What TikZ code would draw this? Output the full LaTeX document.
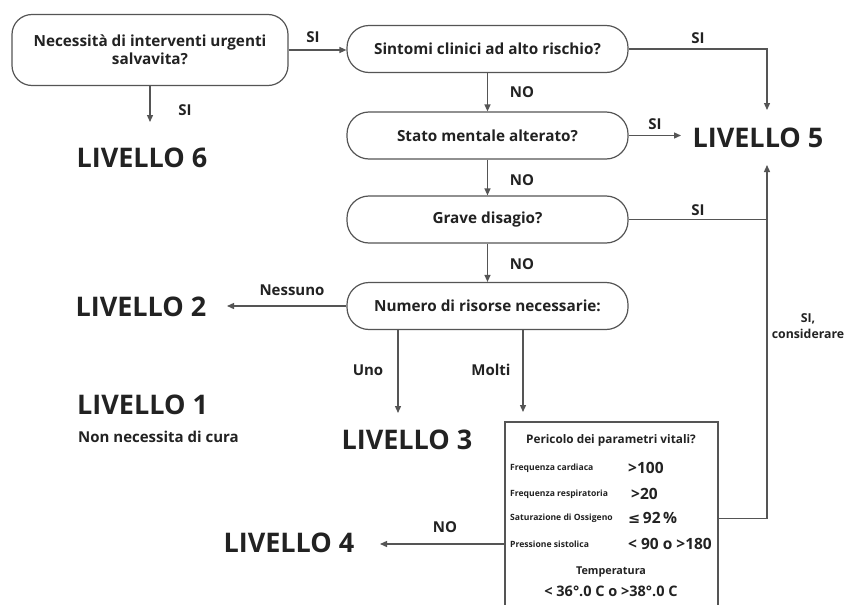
\documentclass[tikz,border=0pt]{standalone}
\usepackage{fontspec}
\setmainfont{Open Sans}
\newfontfamily\symfont{DejaVu Sans}
\usetikzlibrary{arrows.meta}
\definecolor{ln}{HTML}{555555}
\definecolor{tx}{HTML}{222222}
\tikzset{
  qbox/.style={draw=ln, line width=1.2pt, rounded corners=22pt, minimum width=281pt, minimum height=47pt, inner sep=0pt, text=tx, font=\bfseries\fontsize{15.3}{18}\selectfont, align=center},
  lvl/.style={text=tx, font=\bfseries\fontsize{27}{30}\selectfont, inner sep=0pt},
  lab/.style={text=tx, font=\bfseries\fontsize{15}{17}\selectfont, inner sep=0pt, align=center},
  conn/.style={draw=ln, line width=1.3pt},
  arr/.style={conn, -{Triangle[length=7pt,width=6pt]}},
  tiny/.style={text=tx, font=\bfseries\fontsize{8.6}{9}\selectfont, inner sep=0pt, anchor=west},
  val/.style={text=tx, font=\bfseries\fontsize{15.5}{18}\selectfont, inner sep=0pt, anchor=west},
}
\begin{document}
\begin{tikzpicture}[x=1pt,y=-1pt]
\useasboundingbox (0,0) rectangle (847,605);
\fill[white] (0,0) rectangle (847,605);

% question boxes
\node[qbox, minimum width=276pt, minimum height=71pt, rounded corners=20pt] (A) at (150,50) {Necessità di interventi urgenti\\salvavita?};
\node[qbox] (B) at (487.5,49) {Sintomi clinici ad alto rischio?};
\node[qbox] (C) at (487.5,135.5) {Stato mentale alterato?};
\node[qbox] (D) at (487.5,219.5) {Grave disagio?};
\node[qbox] (E) at (487.5,306) {Numero di risorse necessarie:};

% levels
\node[lvl] (L6) at (142,158) {LIVELLO 6};
\node[lvl] (L5) at (758,138) {LIVELLO 5};
\node[lvl] (L2) at (141,307) {LIVELLO 2};
\node[lvl, anchor=west] (L1) at (77,405) {LIVELLO 1};
\node[lab, anchor=west, font=\bfseries\fontsize{15}{17}\selectfont] (L1t) at (78,437) {Non necessita di cura};
\node[lvl] (L3) at (407,440) {LIVELLO 3};
\node[lvl] (L4) at (289,543) {LIVELLO 4};

% vital parameters box
\node[draw=ln, line width=1.2pt, minimum width=213pt, minimum height=200pt, inner sep=0pt] (F) at (611.5,522) {};
\node[lab, font=\bfseries\fontsize{11.8}{14}\selectfont] (Ft) at (611,440) {Pericolo dei parametri vitali?};
\node[tiny] (f1) at (510,468) {Frequenza cardiaca};
\node[val] (v1) at (628,468) {>100};
\node[tiny] (f2) at (510,494) {Frequenza respiratoria};
\node[val] (v2) at (631,494) {>20};
\node[tiny] (f3) at (510,518) {Saturazione di Ossigeno};
\node[val] (v3) at (628,518) {{\symfont\fontsize{14.5}{18}\selectfont ≤}\,92\,\%};
\node[tiny] (f4) at (510,544) {Pressione sistolica};
\node[val] (v4) at (628,544) {< 90 o >180};
\node[lab, font=\bfseries\fontsize{10.8}{14}\selectfont] (Tt) at (611,572) {Temperatura};
\node[lab, font=\bfseries\fontsize{14.5}{17}\selectfont] (Tv) at (611,591) {< 36°.0 C o >38°.0 C};

% coordinates
\coordinate (c6) at (150,122);
\coordinate (r1) at (767,49);
\coordinate (r1e) at (767,110);
\coordinate (r2) at (767,220);
\coordinate (r3) at (767,518.5);
\coordinate (r3e) at (767,165);
\coordinate (c5) at (681,135.5);
\coordinate (c2) at (227,306);
\coordinate (c3) at (398,413);
\coordinate (cF) at (523,412);
\coordinate (c4) at (380,544);
\coordinate (Fw) at (505.5,544);

% connectors
\draw[arr] (A.east) -- (A.east -| B.west);
\draw[arr] (A.south) -- (c6);
\draw[arr] (B.east) -- (B.east -| r1) -- (r1e);
\draw[arr] (B.south) -- (C.north);
\draw[arr] (C.east) -- (c5);
\draw[arr] (C.south) -- (D.north);
\draw[conn] (D.east) -- (D.east -| r2);
\draw[arr] (D.south) -- (E.north);
\draw[arr] (E.west) -- (c2);
\draw[arr] (E.south -| c3) -- (c3);
\draw[arr] (E.south -| cF) -- (cF);
\draw[arr] (F.east |- r3) -- (r3) -- (r3e);
\draw[arr] (Fw) -- (c4);

% labels
\node[lab] (s1) at (313,37) {SI};
\node[lab] (s2) at (185,110) {SI};
\node[lab] (s3) at (698,38) {SI};
\node[lab] (n1) at (522,92) {NO};
\node[lab] (s4) at (655,124) {SI};
\node[lab] (n2) at (522,180) {NO};
\node[lab] (s5) at (698,210) {SI};
\node[lab] (n3) at (522,264) {NO};
\node[lab, font=\bfseries\fontsize{12.3}{16}\selectfont] (s6) at (808,326) {SI,\\considerare};
\node[lab] (ne) at (292,290) {Nessuno};
\node[lab] (uno) at (368,370) {Uno};
\node[lab] (mo) at (491,370) {Molti};
\node[lab] (n4) at (445,527) {NO};
\end{tikzpicture}
\end{document}
